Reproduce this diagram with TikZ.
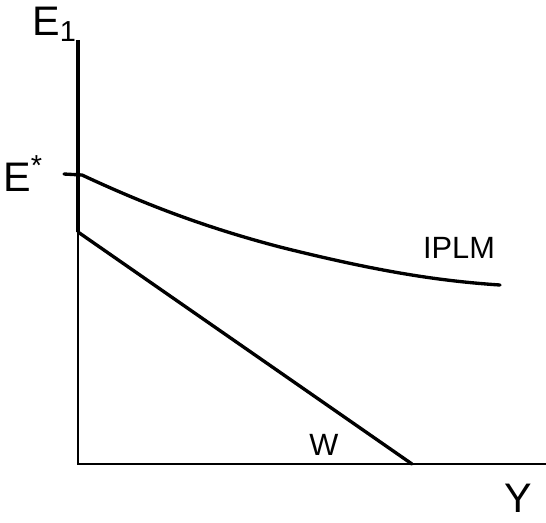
\documentclass[tikz,border=0pt]{standalone}
\usepackage{fontspec}
\setmainfont{Liberation Sans}
\usetikzlibrary{positioning}

\begin{document}
\begin{tikzpicture}[x=0.02cm,y=-0.02cm,
      axis/.style={line width=0.75pt},
      thickaxis/.style={line width=2.3pt},
      curve/.style={line width=1.9pt,line cap=round},
      biglabel/.style={inner sep=0pt,font=\fontsize{23.5}{28}\selectfont},
      smalllabel/.style={inner sep=0pt,font=\fontsize{17.5}{21}\selectfont}]
    \useasboundingbox (0,0) rectangle (546,522);
    % axes
    \coordinate (top) at (78,40);
    \coordinate (wstart) at (78,232);
    \coordinate (origin) at (78,464);
    \coordinate (xend) at (546,464);
    \coordinate (wend) at (412,464);
    \draw[thickaxis] (top) -- (wstart);
    \draw[axis] (wstart) -- (origin) -- (xend);
    % curves
    \draw[curve] (wstart) -- (wend);
    \draw[curve] (64,174) -- (82,175)
      .. controls (140,202) and (200,226) .. (280,247)
      .. controls (380,272) and (440,281) .. (500,285);
    % labels
    \node[biglabel,anchor=base west] (e1) at (32,35) {E\textsubscript{1}};
    \node[biglabel,anchor=base west] (estar) at (3,191) {E\textsuperscript{*}};
    \node[smalllabel] (iplm) at (459,248) {IPLM};
    \node[smalllabel] (w) at (324,445) {W};
    \node[biglabel,anchor=base] (y) at (518,512) {Y};
  \end{tikzpicture}
\end{document}
